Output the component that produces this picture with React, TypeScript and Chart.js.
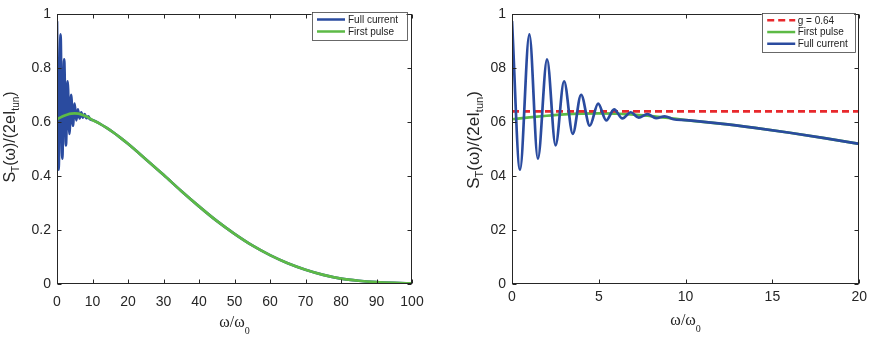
import React, { useEffect, useRef } from "react";
import { Chart, registerables } from "chart.js";
Chart.register(...registerables);

// ---------- data ----------
const leftXTicks = [0, 10, 20, 30, 40, 50, 60, 70, 80, 90, 100];
const leftYTicks = [0, 0.2, 0.4, 0.6, 0.8, 1];
const leftYLabels = ["0", "0.2", "0.4", "0.6", "0.8", "1"];
const rightXTicks = [0, 5, 10, 15, 20];
const rightYTicks = [0, 0.2, 0.4, 0.6, 0.8, 1];
const rightYLabels = ["0", "02", "04", "06", "08", "1"];

const firstPulseX = [0, 1, 2, 3, 4, 5, 6, 7, 8, 9, 10, 12, 14, 16, 18, 20, 25, 30, 35, 40, 45, 50, 55, 60, 65, 70, 75, 80, 85, 90, 95, 100];
const firstPulseY = [0.611, 0.618, 0.624, 0.629, 0.632, 0.633, 0.632, 0.628, 0.623, 0.616, 0.608, 0.595, 0.579, 0.561, 0.541, 0.52, 0.463, 0.405, 0.345, 0.288, 0.234, 0.186, 0.143, 0.107, 0.077, 0.053, 0.034, 0.02, 0.012, 0.007, 0.004, 0.002];

// oscillating part of the full current (extrema)
const fullOscX = [0, 0.46, 1.0, 1.49, 2.02, 2.51, 3.0, 3.5, 3.98, 4.48, 4.96, 5.43, 5.88, 6.36, 6.84, 7.3, 7.8, 8.3, 8.8, 9.3];
const fullOscY = [0.975, 0.424, 0.926, 0.465, 0.833, 0.514, 0.752, 0.557, 0.702, 0.587, 0.669, 0.607, 0.648, 0.614, 0.637, 0.617, 0.63, 0.615, 0.622, 0.611];

const gValue = 0.64;
const gLineX = [0, 20];

// ---------- styles ----------
const BLUE = "#2a4b9f";
const GREEN = "#5dba46";
const RED = "#e8282c";
const AXIS = "#262626";
const SANS = "'Liberation Sans', Arial, Helvetica, sans-serif";
const SERIF = "'Liberation Serif', 'Times New Roman', serif";

const pts = (xs: number[], ys: number[]) => xs.map((x, i) => ({ x, y: ys[i] }));
const firstPulse = pts(firstPulseX, firstPulseY);
const lastOsc = fullOscX[fullOscX.length - 1];
const fullCurrent = pts(fullOscX, fullOscY).concat(firstPulse.filter((p) => p.x > lastOsc));
const gLine = gLineX.map((x) => ({ x, y: gValue }));

type Part = { t: string; sub?: boolean };

function drawRich(ctx: CanvasRenderingContext2D, parts: Part[], x: number, y: number, rotate: boolean, family: string, size: number, subSize: number, subDrop: number) {
  ctx.save();
  ctx.fillStyle = AXIS;
  ctx.textBaseline = "alphabetic";
  ctx.textAlign = "left";
  let w = 0;
  const widths = parts.map((p) => {
    ctx.font = `${p.sub ? subSize : size}px ${family}`;
    const m = ctx.measureText(p.t).width;
    w += m;
    return m;
  });
  ctx.translate(x, y);
  if (rotate) ctx.rotate(-Math.PI / 2);
  let cx = -w / 2;
  parts.forEach((p, i) => {
    ctx.font = `${p.sub ? subSize : size}px ${family}`;
    ctx.fillText(p.t, cx, p.sub ? subDrop : 0);
    cx += widths[i];
  });
  ctx.restore();
}

type LegendItem = { label: string; color: string; dash?: number[] };

type Cfg = {
  xMax: number;
  xTicks: number[];
  yTicks: number[];
  yLabels: string[];
  yAxisWidth: number;
  padRight: number;
  xLabelPad: number;
  datasets: any[];
  legend: LegendItem[];
  legendBox: { rightOff: number; top: number; width: number; rowH: number; lineX0: number; lineX1: number; textX: number };
  yTitle: { x: number; y: number; size: number };
  xTitle: { y: number; drop: number };
};

function makeChart(canvas: HTMLCanvasElement, cfg: Cfg) {
  const decor = {
    id: "decor",
    afterDraw(chart: any) {
      const ctx: CanvasRenderingContext2D = chart.ctx;
      const a = chart.chartArea;
      const xs = chart.scales.x;
      const ys = chart.scales.y;
      ctx.save();
      ctx.strokeStyle = AXIS;
      ctx.lineWidth = 1;
      const L = Math.round(a.left) + 0.5;
      const R = Math.round(a.right) - 0.5;
      const T = Math.round(a.top) + 0.5;
      const B = Math.round(a.bottom) - 0.5;
      ctx.strokeRect(L, T, R - L, B - T);
      const tl = 4;
      ctx.beginPath();
      cfg.xTicks.forEach((v) => {
        const px = Math.round(xs.getPixelForValue(v)) + 0.5;
        ctx.moveTo(px, B);
        ctx.lineTo(px, B - tl);
        ctx.moveTo(px, T);
        ctx.lineTo(px, T + tl);
      });
      cfg.yTicks.forEach((v) => {
        const py = Math.round(ys.getPixelForValue(v)) + 0.5;
        ctx.moveTo(L, py);
        ctx.lineTo(L + tl, py);
        ctx.moveTo(R, py);
        ctx.lineTo(R - tl, py);
      });
      ctx.stroke();

      // legend
      const lb = cfg.legendBox;
      const bx = a.right - lb.rightOff - lb.width;
      const by = lb.top;
      const bh = lb.rowH * cfg.legend.length + 4;
      ctx.fillStyle = "#ffffff";
      ctx.fillRect(bx, by, lb.width, bh);
      ctx.strokeStyle = "#444";
      ctx.lineWidth = 0.8;
      ctx.strokeRect(Math.round(bx) + 0.5, Math.round(by) + 0.5, Math.round(lb.width), Math.round(bh));
      cfg.legend.forEach((it, i) => {
        const cy = by + 2 + lb.rowH * (i + 0.5);
        ctx.strokeStyle = it.color;
        ctx.lineWidth = 2.5;
        ctx.setLineDash(it.dash || []);
        ctx.beginPath();
        ctx.moveTo(bx + lb.lineX0, cy);
        ctx.lineTo(bx + lb.lineX1, cy);
        ctx.stroke();
        ctx.setLineDash([]);
        ctx.fillStyle = "#222";
        ctx.font = `10px ${SANS}`;
        ctx.textBaseline = "middle";
        ctx.textAlign = "left";
        ctx.fillText(it.label, bx + lb.textX, cy + 0.5);
      });
      ctx.restore();

      // axis titles
      const yt = cfg.yTitle;
      drawRich(ctx, [{ t: "S" }, { t: "T", sub: true }, { t: "(ω)/(2eI" }, { t: "tun", sub: true }, { t: ")" }], yt.x, yt.y, true, SANS, yt.size, Math.round(yt.size * 0.65), 4);
      const xt = cfg.xTitle;
      drawRich(ctx, [{ t: "ω/ω" }, { t: "0", sub: true }], (a.left + a.right) / 2, xt.y, false, SERIF, 16, 10, xt.drop);
    },
  };

  return new Chart(canvas, {
    type: "line",
    data: { datasets: cfg.datasets },
    options: {
      animation: false,
      responsive: false,
      events: [],
      layout: { padding: { left: 0, top: 9, right: cfg.padRight, bottom: 0 } },
      plugins: { legend: { display: false }, tooltip: { enabled: false } },
      elements: { point: { radius: 0 } },
      scales: {
        x: {
          type: "linear",
          min: 0,
          max: cfg.xMax,
          grid: { display: false, drawTicks: false },
          border: { display: false },
          afterBuildTicks: (s: any) => {
            s.ticks = cfg.xTicks.map((v) => ({ value: v }));
          },
          afterFit: (s: any) => {
            s.height = 56;
          },
          ticks: { color: AXIS, font: { family: SANS, size: 14 }, padding: cfg.xLabelPad, maxRotation: 0, autoSkip: false, callback: (v: any) => String(v) },
        },
        y: {
          type: "linear",
          min: 0,
          max: 1,
          grid: { display: false, drawTicks: false },
          border: { display: false },
          afterBuildTicks: (s: any) => {
            s.ticks = cfg.yTicks.map((v) => ({ value: v }));
          },
          afterFit: (s: any) => {
            s.width = cfg.yAxisWidth;
          },
          ticks: {
            color: AXIS,
            font: { family: SANS, size: 14 },
            padding: 6,
            autoSkip: false,
            callback: (v: any, i: number) => cfg.yLabels[i],
          },
        },
      },
    },
    plugins: [decor],
  } as any);
}

export default function App() {
  const leftRef = useRef<HTMLCanvasElement>(null);
  const rightRef = useRef<HTMLCanvasElement>(null);

  useEffect(() => {
    const lineDs = (label: string, data: any[], color: string, order: number, extra: any = {}) => ({
      label,
      data,
      borderColor: color,
      backgroundColor: color,
      borderWidth: 2.7,
      pointRadius: 0,
      fill: false,
      order,
      cubicInterpolationMode: "monotone",
      ...extra,
    });

    const left = makeChart(leftRef.current!, {
      xMax: 100,
      xTicks: leftXTicks,
      yTicks: leftYTicks,
      yLabels: leftYLabels,
      yAxisWidth: 57,
      padRight: 24,
      xLabelPad: 10,
      datasets: [lineDs("Full current", fullCurrent, BLUE, 1), lineDs("First pulse", firstPulse, GREEN, 0)],
      legend: [
        { label: "Full current", color: BLUE },
        { label: "First pulse", color: GREEN },
      ],
      legendBox: { rightOff: 5.5, top: 11.5, width: 95, rowH: 12, lineX0: 5.5, lineX1: 33.5, textX: 36.5 },
      yTitle: { x: 15, y: 137, size: 16 },
      xTitle: { y: 327, drop: 7 },
    });

    const right = makeChart(rightRef.current!, {
      xMax: 20,
      xTicks: rightXTicks,
      yTicks: rightYTicks,
      yLabels: rightYLabels,
      yAxisWidth: 76,
      padRight: 12,
      xLabelPad: 5,
      datasets: [
        lineDs("g = 0.64", gLine, RED, 1, { borderDash: [7, 4], cubicInterpolationMode: "default", tension: 0 }),
        lineDs("First pulse", firstPulse, GREEN, 2),
        lineDs("Full current", fullCurrent, BLUE, 0),
      ],
      legend: [
        { label: "g = 0.64", color: RED, dash: [7, 4] },
        { label: "First pulse", color: GREEN },
        { label: "Full current", color: BLUE },
      ],
      legendBox: { rightOff: 5, top: 12.5, width: 92.5, rowH: 11.7, lineX0: 5.5, lineX1: 33.5, textX: 36 },
      yTitle: { x: 43, y: 140, size: 17 },
      xTitle: { y: 325, drop: 6.5 },
    });

    return () => {
      left.destroy();
      right.destroy();
    };
  }, []);

  return (
    <div style={{ position: "absolute", left: 0, top: 0, width: 872, height: 340, background: "#fff" }}>
      <canvas ref={leftRef} width={436} height={340} style={{ position: "absolute", left: 0, top: 0, width: 436, height: 340 }} />
      <canvas ref={rightRef} width={436} height={340} style={{ position: "absolute", left: 436, top: 0, width: 436, height: 340 }} />
    </div>
  );
}
